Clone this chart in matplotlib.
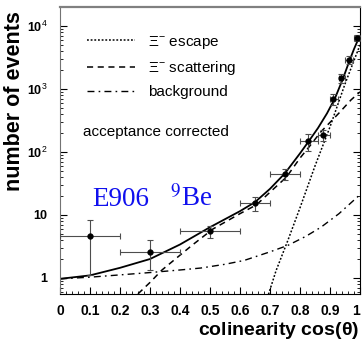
import matplotlib
matplotlib.use("Agg")
import matplotlib.pyplot as plt
import numpy as np
from matplotlib.ticker import FixedLocator, LogLocator, NullFormatter

# measured yields (acceptance corrected)
cos_theta = [0.10, 0.30, 0.50, 0.65, 0.75, 0.825, 0.877, 0.91, 0.937, 0.963, 0.99]
events = [4.6, 2.6, 5.6, 15.5, 45, 150, 185, 690, 1500, 2900, 6400]
x_lo = [0.00, 0.20, 0.40, 0.60, 0.70, 0.80, 0.86, 0.90, 0.93, 0.95, 0.98]
x_hi = [0.20, 0.40, 0.60, 0.70, 0.80, 0.86, 0.90, 0.925, 0.95, 0.975, 1.00]
y_lo = [1.1, 1.34, 4.3, 11.5, 36, 104, 150, 560, 1250, 2500, 5700]
y_hi = [8.3, 4.0, 6.8, 19.5, 53, 195, 225, 830, 1750, 3300, 7100]

# model curves
total_x = [0.0, 0.1, 0.2, 0.3, 0.4, 0.5, 0.6, 0.65, 0.7, 0.75, 0.8, 0.83, 0.86, 0.89, 0.917, 0.943, 0.966, 0.98, 0.997]
total_y = [0.97, 1.1, 1.45, 2.0, 3.4, 6.4, 11.5, 16, 26, 46, 95, 150, 240, 410, 720, 1450, 2900, 4300, 6600]
escape_x = [0.695, 0.72, 0.76, 0.80, 0.85, 0.90, 0.95, 1.0]
escape_y = [0.55, 1.3, 4.0, 13, 60, 250, 1200, 5000]
scatter_x = [0.26, 0.30, 0.34, 0.40, 0.44, 0.51, 0.60, 0.655, 0.70, 0.755, 0.80, 0.83, 0.87, 0.91, 0.93, 0.97, 1.0]
scatter_y = [0.56, 0.85, 1.34, 2.3, 3.3, 6.0, 10.5, 14.5, 23, 40, 80, 120, 210, 330, 415, 670, 900]
backgr_x = [0.0, 0.1, 0.2, 0.3, 0.4, 0.47, 0.55, 0.614, 0.7, 0.76, 0.82, 0.87, 0.93, 1.0]
backgr_y = [0.97, 1.03, 1.12, 1.22, 1.34, 1.44, 1.65, 1.9, 2.6, 3.3, 4.6, 6.4, 10.5, 21]

x_ticks = [0, 0.1, 0.2, 0.3, 0.4, 0.5, 0.6, 0.7, 0.8, 0.9, 1.0]
x_ticklabels = ["0", "0.1", "0.2", "0.3", "0.4", "0.5", "0.6", "0.7", "0.8", "0.9", "1"]
y_ticks = [1, 10, 100, 1000, 10000]
y_ticklabels = ["1", "10", r"10$^{2}$", r"10$^{3}$", r"10$^{4}$"]
legend_labels = [r"$\Xi^{-}$ escape", r"$\Xi^{-}$ scattering", "background"]

plt.rcParams["font.family"] = ["Liberation Sans", "DejaVu Sans"]
plt.rcParams["mathtext.fontset"] = "custom"
plt.rcParams["mathtext.rm"] = "Liberation Sans"
plt.rcParams["mathtext.it"] = "Liberation Sans"
plt.rcParams["mathtext.bf"] = "Liberation Sans:bold"

fig = plt.figure(figsize=(3.62, 3.41), dpi=100)
ax = fig.add_axes([60 / 362, 1 - 294 / 341, 300 / 362, 287 / 341])

ax.set_xlim(0, 1)
ax.set_yscale("log")
ax.set_ylim(0.557, 20000)

ax.plot(total_x, total_y, color="black", lw=1.3, solid_capstyle="round")
l_esc, = ax.plot(escape_x, escape_y, color="black", lw=1.1, linestyle=(0, (1.2, 1.2)))
l_sca, = ax.plot(scatter_x, scatter_y, color="black", lw=1.1, linestyle=(0, (4, 3)))
l_bkg, = ax.plot(backgr_x, backgr_y, color="black", lw=1.0, linestyle=(0, (5, 3, 1.2, 3)))

cx = np.array(cos_theta)
cy = np.array(events)
xerr = [cx - np.array(x_lo), np.array(x_hi) - cx]
yerr = [cy - np.array(y_lo), np.array(y_hi) - cy]
ax.errorbar(cx, cy, xerr=xerr, yerr=yerr, fmt="none", ecolor="0.3",
            elinewidth=0.8, capsize=2, capthick=0.8, zorder=3)
ax.plot(cx, cy, "o", color="black", ms=3.5, zorder=4)

ax.legend([l_esc, l_sca, l_bkg], legend_labels, loc="upper left",
          bbox_to_anchor=(0.045, 0.955), frameon=False, fontsize=11,
          handlelength=3.1, handletextpad=0.85, labelspacing=0.55)

ax.text(0.077, 0.565, "acceptance corrected", transform=ax.transAxes,
        fontsize=11, va="center", ha="left")
ax.text(0.107, 0.307, "E906", transform=ax.transAxes, color="#1010ee",
        fontsize=19.5, family="Liberation Serif", va="baseline", ha="left")
ax.text(0.367, 0.307, r"$^{9}$Be", transform=ax.transAxes, color="#1010ee",
        fontsize=19.5, family="Liberation Serif", va="baseline", ha="left",
        math_fontfamily="stix")

ax.xaxis.set_major_locator(FixedLocator(x_ticks))
ax.set_xticklabels(x_ticklabels)
ax.xaxis.set_minor_locator(FixedLocator(np.arange(0, 1.001, 0.02)))
ax.yaxis.set_major_locator(FixedLocator(y_ticks))
ax.set_yticklabels(y_ticklabels)
ax.yaxis.set_minor_locator(LogLocator(base=10, subs=np.arange(2, 10), numticks=20))
ax.yaxis.set_minor_formatter(NullFormatter())

ax.tick_params(which="both", direction="in", top=False, right=True)
ax.tick_params(which="major", length=5, width=0.8)
ax.tick_params(which="minor", length=2.5, width=0.6)
ax.tick_params(axis="x", labelsize=10, pad=7.5)
ax.tick_params(axis="y", labelsize=9, pad=9)
for lab in ax.get_xticklabels() + ax.get_yticklabels():
    lab.set_fontweight("bold")
# keep the last x label inside the canvas
ax.get_xticklabels()[-1].set_horizontalalignment("right")

for side in ["left", "bottom", "right"]:
    ax.spines[side].set_linewidth(0.8)
ax.spines["left"].set_color("0.45")
ax.spines["top"].set_color("0.5")
ax.spines["top"].set_linewidth(1.6)

ax.set_xlabel(r"colinearity cos($\mathbf{\theta}$)", fontsize=14,
              fontweight="bold", loc="right")
ax.xaxis.set_label_coords(0.998, -0.092)
ax.set_ylabel("number of events", fontsize=15.5, fontweight="bold",
              loc="top")
ax.yaxis.set_label_coords(-0.118, 0.985)

fig.savefig("out.png", dpi=100)
